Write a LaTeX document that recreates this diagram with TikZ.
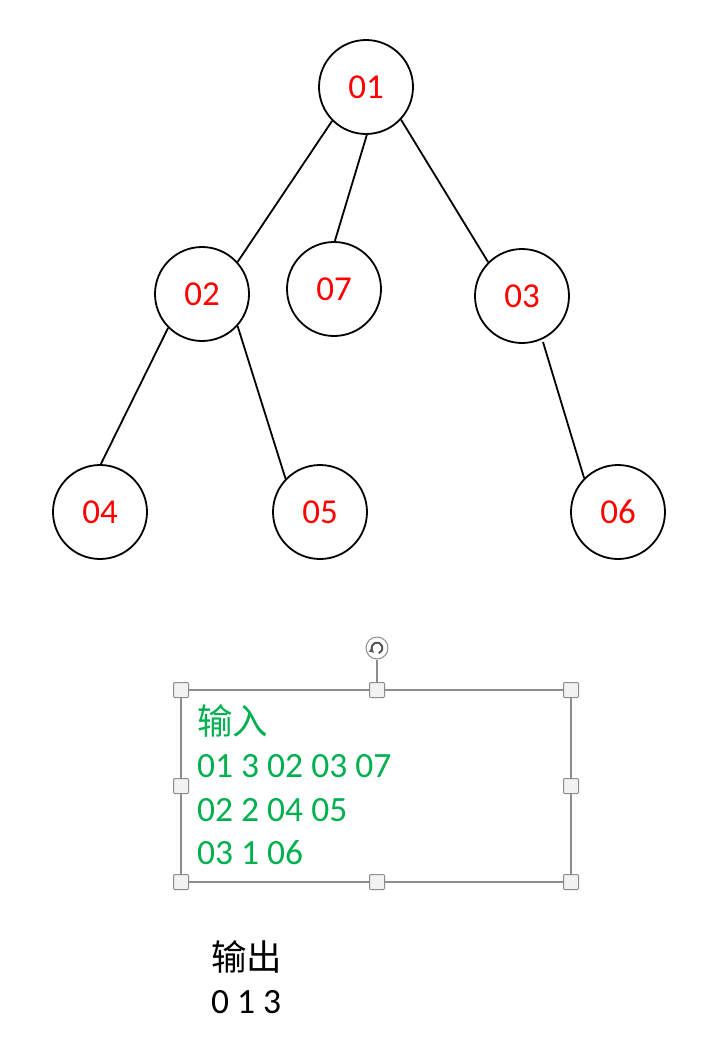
\documentclass[tikz,border=0pt]{standalone}
\usepackage{fontspec}
\setmainfont{Carlito}
\newfontfamily\cjk{Noto Sans CJK SC}
\usetikzlibrary{arrows.meta,calc}
\definecolor{nodered}{RGB}{255,0,0}
\definecolor{txtgreen}{RGB}{0,176,80}
\definecolor{framegray}{RGB}{140,140,140}
\definecolor{handlefill}{RGB}{242,242,242}
\begin{document}
\begin{tikzpicture}[x=1pt,y=-1pt,
  treenode/.style={draw=black,line width=1.8pt,circle,minimum size=94pt,inner sep=0pt,
    text=nodered,font=\fontsize{35}{40}\selectfont},
  edge/.style={draw=black,line width=1.8pt},
  handle/.style={draw=framegray,fill=handlefill,line width=1pt,rounded corners=1pt,
    minimum size=15pt,inner sep=0pt},
  greentxt/.style={text=txtgreen,anchor=base west,inner sep=0pt,font=\fontsize{35.5}{42}\selectfont},
  blacktxt/.style={text=black,anchor=base west,inner sep=0pt,font=\fontsize{35.5}{42}\selectfont}]
\useasboundingbox (0,0) rectangle (728,1058);
\fill[white] (0,0) rectangle (728,1058);

% tree
\node[treenode] (n01) at (366,87) {01};
\node[treenode] (n02) at (202,294) {02};
\node[treenode] (n07) at (334,289) {07};
\node[treenode] (n03) at (522,296) {03};
\node[treenode] (n04) at (100,512) {04};
\node[treenode] (n05) at (320,512) {05};
\node[treenode] (n06) at (618,512) {06};

\draw[edge] (n01.-135) -- (n02.42);
\draw[edge] (n01.-89) -- (n07.89);
\draw[edge] (n01.-43) -- (n03.135);
\draw[edge] (n02.-135) -- (n04.89);
\draw[edge] (n02.-42) -- (n05.136);
\draw[edge] ($(n03.center)+(21,46)$) -- (n06.135);

% selected text box
\coordinate (tl) at (181,690);
\coordinate (br) at (571,882);
\draw[framegray,line width=1.5pt] (tl) rectangle (br);
\node[draw=framegray,fill=white,circle,line width=1pt,minimum size=22pt,inner sep=0pt] (rot) at (377,648) {};
\node[handle] (h1) at (181,690) {};
\node[handle] (h2) at (377,690) {};
\node[handle] (h3) at (571,690) {};
\node[handle] (h4) at (181,786) {};
\node[handle] (h5) at (571,786) {};
\node[handle] (h6) at (181,882) {};
\node[handle] (h7) at (377,882) {};
\node[handle] (h8) at (571,882) {};
\draw[framegray,line width=1.5pt] (rot.south) -- (h2.north);
\draw[black!65,line width=2pt,-{Triangle[length=4pt,width=5pt]}]
  ($(rot.center)+(70:5.5)$) arc[start angle=70,end angle=-230,radius=5.5];

\node[greentxt] (in1) at (197,734) {\cjk 输入};
\node[greentxt] (in2) at (197,777) {01 3 02 03 07};
\node[greentxt] (in3) at (197,821) {02 2 04 05};
\node[greentxt] (in4) at (197,864) {03 1 06};

% output
\node[blacktxt] (out1) at (211,970) {\cjk 输出};
\node[blacktxt] (out2) at (211,1013) {0 1 3};
\end{tikzpicture}
\end{document}
